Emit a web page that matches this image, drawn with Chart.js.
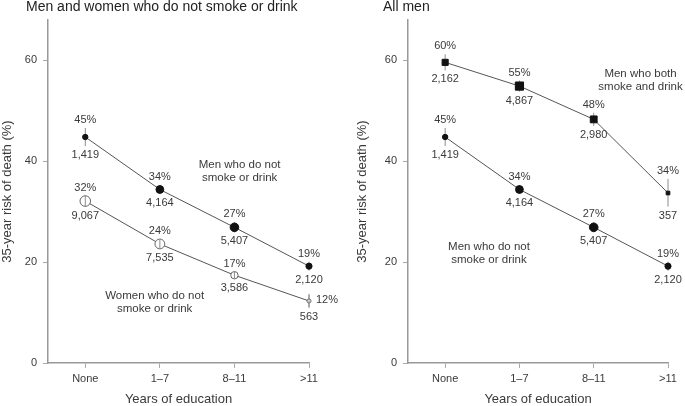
<!DOCTYPE html>
<html>
<head>
<meta charset="utf-8">
<script src="https://cdn.jsdelivr.net/npm/chart.js@4.4.0/dist/chart.umd.min.js"></script>
<style>
body { margin: 0; background: #fff; }
#wrap { position: relative; width: 685px; height: 406px; }
.panel { position: absolute; top: 0; height: 406px; }
</style>
</head>
<body>
<div id="wrap">
	<div class="panel" style="left:0;width:340px"><canvas id="chartLeft"></canvas></div>
	<div class="panel" style="left:340px;width:345px"><canvas id="chartRight"></canvas></div>
</div>
<script>

var education = ["None", "1\u20137", "8\u201311", ">11"];
var yTicks = [0, 20, 40, 60];

// men who do not smoke or drink
var menNone = [44.8, 34.4, 26.9, 19.2];
var menNoneLow = [43.0, 33.6, 25.9, 18.3];
var menNoneHigh = [46.6, 35.3, 27.9, 20.1];
var menNoneN = [1419, 4164, 5407, 2120];

// women who do not smoke or drink
var womenNone = [32.1, 23.6, 17.4, 12.3];
var womenNoneLow = [31.0, 22.7, 16.7, 11.0];
var womenNoneHigh = [33.2, 24.5, 18.1, 13.6];
var womenNoneN = [9067, 7535, 3586, 563];

// men who both smoke and drink
var menBoth = [59.6, 54.9, 48.3, 33.7];
var menBothLow = [58.0, 53.8, 47.0, 31.0];
var menBothHigh = [61.2, 56.0, 49.6, 36.5];
var menBothN = [2162, 4867, 2980, 357];

var FONT = "'Liberation Sans', Arial, sans-serif";
var TXT = '#3a3a3a';

function markerSize(n, k){
	return n.map(function(v){ return (1 + 0.045 * Math.sqrt(v)) * k; });
}

function series(vals, low, high, n, look){
	var ds = {
		data: vals.map(function(v, i){ return { x: i, y: v }; }),
		low: low,
		high: high,
		n: n,
		clip: false,
		borderColor: '#555',
		borderWidth: 1,
		pointStyle: look.style,
		pointRadius: markerSize(n, look.k),
		pointBackgroundColor: look.fill,
		pointBorderColor: look.edge,
		pointBorderWidth: 1,
		open: look.open || false,
		pctRight: look.pctRight == null ? -1 : look.pctRight
	};
	return ds;
}

function drawBars(chart, onlyOpen){
	var ctx = chart.ctx;
	var ys = chart.scales.y;
	ctx.save();
	ctx.strokeStyle = '#8c8c8c';
	ctx.lineWidth = 1;
	chart.data.datasets.forEach(function(ds, d){
		if (onlyOpen && !ds.open) return;
		chart.getDatasetMeta(d).data.forEach(function(pt, i){
			ctx.beginPath();
			ctx.moveTo(pt.x, ys.getPixelForValue(ds.high[i]));
			ctx.lineTo(pt.x, ys.getPixelForValue(ds.low[i]));
			ctx.stroke();
		});
	});
	ctx.restore();
}

var panelText = {
	id: 'panelText',
	beforeDatasetsDraw: function(chart){
		drawBars(chart, false);
	},
	afterDatasetsDraw: function(chart, args, opts){
		drawBars(chart, true);
		var ctx = chart.ctx;
		var ys = chart.scales.y;
		var xs = chart.scales.x;
		ctx.save();
		ctx.font = '11px ' + FONT;
		ctx.fillStyle = TXT;
		chart.data.datasets.forEach(function(ds, d){
			var meta = chart.getDatasetMeta(d);
			meta.data.forEach(function(pt, i){
				var top = ys.getPixelForValue(ds.high[i]);
				var bot = ys.getPixelForValue(ds.low[i]);
				var r = ds.pointRadius[i];
				if (ds.pointStyle == 'rect') r = r * 0.71;
				var pct = Math.round(ds.data[i].y) + '%';
				var nTxt = ds.n[i].toLocaleString('en-US');
				ctx.textBaseline = 'middle';
				if (i == ds.pctRight){
					ctx.textAlign = 'left';
					ctx.fillText(pct, pt.x + 7, pt.y - 1);
				} else {
					ctx.textAlign = 'center';
					ctx.fillText(pct, pt.x, Math.min(top, pt.y - r) - 8);
				}
				ctx.textAlign = 'center';
				ctx.fillText(nTxt, pt.x, Math.max(bot, pt.y + r) + 9);
			});
		});

		ctx.font = '11.5px ' + FONT;
		(opts.notes || []).forEach(function(note){
			var cx = xs.getPixelForValue(note.x);
			var cy = ys.getPixelForValue(note.y);
			ctx.textAlign = 'center';
			ctx.fillText(note.lines[0], cx, cy - 6.5);
			ctx.fillText(note.lines[1], cx, cy + 6.5);
		});

		ctx.font = '14px ' + FONT;
		ctx.fillStyle = '#222';
		ctx.textAlign = 'left';
		ctx.fillText(opts.title, opts.titleX, 7);
		ctx.restore();
	}
};

function makeChart(id, sets, title, titleX, notes, axisW, rightPad, yTitlePad){
	return new Chart(document.getElementById(id), {
		type: 'line',
		data: { datasets: sets },
		plugins: [panelText],
		options: {
			responsive: true,
			maintainAspectRatio: false,
			animation: false,
			layout: { padding: { top: 20, right: rightPad, left: 0, bottom: 0 } },
			plugins: {
				legend: { display: false },
				tooltip: { enabled: false },
				panelText: { title: title, titleX: titleX, notes: notes }
			},
			scales: {
				x: {
					type: 'linear',
					min: -0.5,
					max: 3,
					afterBuildTicks: function(s){ s.ticks = education.map(function(c, i){ return { value: i }; }); },
					afterFit: function(s){ s.height = 43; },
					ticks: {
						callback: function(v){ return education[v]; },
						color: TXT, font: { family: FONT, size: 11 }, padding: 4
					},
					grid: { drawOnChartArea: false, tickLength: 5, color: '#aaa', lineWidth: 1 },
					border: { color: '#999', width: 1.5 },
					title: {
						display: true, text: 'Years of education', color: TXT,
						font: { family: FONT, size: 13 }, padding: { top: 0, bottom: -1 }
					}
				},
				y: {
					min: 0,
					max: 68,
					afterBuildTicks: function(s){ s.ticks = yTicks.map(function(v){ return { value: v }; }); },
					afterFit: function(s){ s.width = axisW; },
					ticks: { color: TXT, font: { family: FONT, size: 11 }, padding: 6 },
					grid: { drawOnChartArea: false, tickLength: 5, color: '#aaa', lineWidth: 1 },
					border: { color: '#999', width: 1.5 },
					title: {
						display: true, text: '35-year risk of death (%)', color: TXT,
						font: { family: FONT, size: 13 }, padding: { top: yTitlePad, bottom: 0 }
					}
				}
			}
		}
	});
}

var dotLook = { style: 'circle', k: 1, fill: '#111', edge: '#111' };
var openLook = { style: 'circle', k: 1, fill: '#fff', edge: '#666', open: true, pctRight: 3 };
var squareLook = { style: 'rect', k: 1.4, fill: '#111', edge: '#111' };

makeChart('chartLeft', [
		series(menNone, menNoneLow, menNoneHigh, menNoneN, dotLook),
		series(womenNone, womenNoneLow, womenNoneHigh, womenNoneN, openLook)
	],
	'Men and women who do not smoke or drink', 26,
	[
		{ x: 2.07, y: 38.0, lines: ['Men who do not', 'smoke or drink'] },
		{ x: 0.93, y: 12.0, lines: ['Women who do not', 'smoke or drink'] }
	], 48, 31, 0);

makeChart('chartRight', [
		series(menBoth, menBothLow, menBothHigh, menBothN, squareLook),
		series(menNone, menNoneLow, menNoneHigh, menNoneN, dotLook)
	],
	'All men', 43,
	[
		{ x: 2.63, y: 56.1, lines: ['Men who both', 'smoke and drink'] },
		{ x: 0.59, y: 21.8, lines: ['Men who do not', 'smoke or drink'] }
	], 68, 17, 15);

</script>
</body>
</html>
